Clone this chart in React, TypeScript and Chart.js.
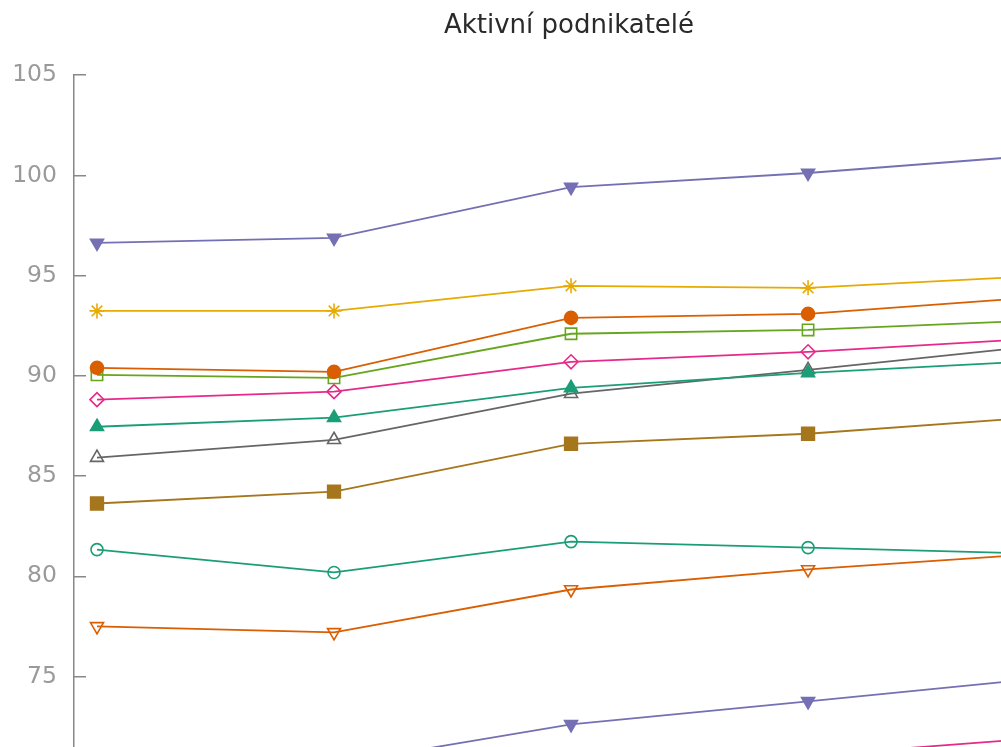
import React, { useEffect, useRef } from 'react';
import { Chart, registerables } from 'chart.js';

Chart.register(...registerables);

const categories = ['2015', '2016', '2017', '2018', '2019'];
const yTicks = [65, 70, 75, 80, 85, 90, 95, 100, 105];

const seriesPurple = [96.63, 96.88, 99.42, 100.12, 101.03];
const seriesYellow = [93.24, 93.24, 94.49, 94.39, 95.0];
const seriesOrange = [90.4, 90.2, 92.89, 93.09, 93.95];
const seriesGreen = [90.05, 89.9, 92.1, 92.29, 92.78];
const seriesPink = [88.81, 89.21, 90.7, 91.2, 91.88];
const seriesTeal = [87.46, 87.91, 89.4, 90.15, 90.76];
const seriesGray = [85.92, 86.81, 89.11, 90.3, 91.53];
const seriesBrown = [83.63, 84.22, 86.61, 87.11, 87.97];
const seriesTeal2 = [81.33, 80.19, 81.73, 81.43, 81.12];
const seriesOrange2 = [77.5, 77.2, 79.34, 80.34, 81.14];
const seriesPurple2 = [70.4, 70.63, 72.61, 73.76, 74.93];
const seriesPink2 = [69.6, 69.8, 70.5, 71.05, 71.95];

type S = {
  label: string;
  values: number[];
  color: string;
  style: string;
  rotation: number;
  filled: boolean;
  radius: number;
};

const series: S[] = [
  { label: 'Řada 1', values: seriesPurple, color: '#7570b3', style: 'triangle', rotation: 180, filled: true, radius: 7.5 },
  { label: 'Řada 2', values: seriesYellow, color: '#e6ab02', style: 'star', rotation: 0, filled: false, radius: 7.5 },
  { label: 'Řada 3', values: seriesOrange, color: '#d95f02', style: 'circle', rotation: 0, filled: true, radius: 6.5 },
  { label: 'Řada 4', values: seriesGreen, color: '#66a61e', style: 'rect', rotation: 0, filled: false, radius: 8 },
  { label: 'Řada 5', values: seriesPink, color: '#e7298a', style: 'rectRot', rotation: 0, filled: false, radius: 7 },
  { label: 'Řada 6', values: seriesTeal, color: '#1b9e77', style: 'triangle', rotation: 0, filled: true, radius: 7.5 },
  { label: 'Řada 7', values: seriesGray, color: '#666666', style: 'triangle', rotation: 0, filled: false, radius: 7.5 },
  { label: 'Řada 8', values: seriesBrown, color: '#a6761d', style: 'rect', rotation: 0, filled: true, radius: 9 },
  { label: 'Řada 9', values: seriesTeal2, color: '#1b9e77', style: 'circle', rotation: 0, filled: false, radius: 6 },
  { label: 'Řada 10', values: seriesOrange2, color: '#d95f02', style: 'triangle', rotation: 180, filled: false, radius: 7.5 },
  { label: 'Řada 11', values: seriesPurple2, color: '#7570b3', style: 'triangle', rotation: 180, filled: true, radius: 7.5 },
  { label: 'Řada 12', values: seriesPink2, color: '#e7298a', style: 'circle', rotation: 0, filled: true, radius: 6.5 },
];

export default function App() {
  const ref = useRef<HTMLCanvasElement | null>(null);

  useEffect(() => {
    if (!ref.current) return;
    const chart = new Chart(ref.current, {
      type: 'line',
      data: {
        datasets: series.map((s) => ({
          label: s.label,
          data: s.values.map((v, i) => ({ x: i, y: v })),
          borderColor: s.color,
          backgroundColor: s.filled ? s.color : 'rgba(255,255,255,0)',
          borderWidth: 1.8,
          pointStyle: s.style as any,
          pointRotation: s.rotation,
          pointRadius: s.radius,
          pointBorderWidth: 1.6,
          pointBorderColor: s.color,
          pointBackgroundColor: s.filled ? s.color : 'rgba(255,255,255,0)',
          tension: 0,
        })),
      },
      options: {
        animation: false,
        responsive: false,
        devicePixelRatio: 1,
        layout: { autoPadding: false, padding: { left: 0, right: 0, top: 0, bottom: 0 } },
        plugins: {
          legend: { display: false },
          tooltip: { enabled: false },
          title: {
            display: true,
            text: 'Aktivní podnikatelé',
            color: '#2a2a2a',
            font: { family: 'DejaVu Sans', size: 26, weight: 'normal', lineHeight: 1.2 },
            padding: { top: 11, bottom: 33 },
          },
        },
        scales: {
          x: {
            type: 'linear',
            min: -0.097,
            max: 4.392,
            afterFit: (s: any) => {
              s.height = 42;
              s.paddingLeft = 0;
              s.paddingRight = 0;
            },
            afterBuildTicks: (s: any) => {
              s.ticks = categories.map((_, i) => ({ value: i }));
            },
            ticks: {
              callback: (v: any) => categories[v] ?? '',
              color: '#999999',
              font: { family: 'DejaVu Sans', size: 20 },
            },
            grid: { drawOnChartArea: false, color: '#888888' },
            border: { color: '#888888', width: 1.5 },
          },
          y: {
            min: 65,
            max: 105,
            afterFit: (s: any) => {
              s.width = 74;
            },
            afterBuildTicks: (s: any) => {
              s.ticks = yTicks.map((v) => ({ value: v }));
            },
            ticks: {
              color: '#9a9a9a',
              padding: 29,
              font: { family: 'DejaVu Sans', size: 23.5 },
            },
            grid: {
              drawOnChartArea: false,
              drawTicks: true,
              tickLength: -12,
              color: '#888888',
              lineWidth: 1.5,
            },
            border: { color: '#888888', width: 1.5 },
          },
        },
      },
    });
    return () => chart.destroy();
  }, []);

  return (
    <div
      style={{
        position: 'fixed',
        left: 0,
        top: 0,
        width: 1001,
        height: 747,
        overflow: 'hidden',
        background: '#ffffff',
      }}
    >
      <canvas ref={ref} width={1138} height={920} style={{ display: 'block' }} />
    </div>
  );
}
